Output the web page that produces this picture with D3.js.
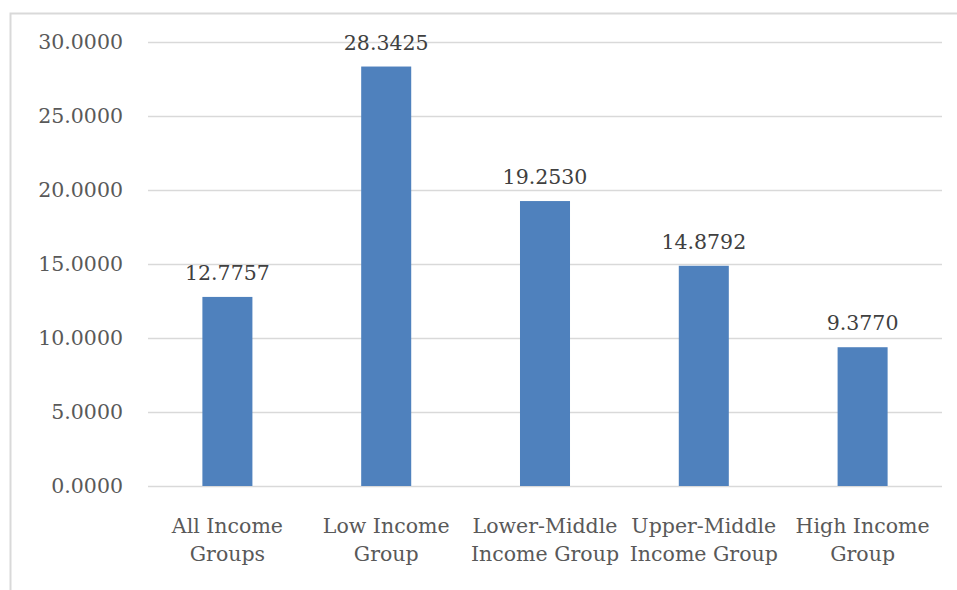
<!DOCTYPE html>
<html>
<head>
<meta charset="utf-8">
<script src="https://cdn.jsdelivr.net/npm/d3@7"></script>
<style>
  html, body { margin: 0; padding: 0; background: #fff; }
  svg { display: block; }
</style>
</head>
<body>
<svg id="chart" width="957" height="590"></svg>
<script>
// Income groups and their values
const categories = [
  ["All Income", "Groups"],
  ["Low Income", "Group"],
  ["Lower-Middle", "Income Group"],
  ["Upper-Middle", "Income Group"],
  ["High Income", "Group"]
];
const values = [12.7757, 28.3425, 19.2530, 14.8792, 9.3770];
const yTicks = [0, 5, 10, 15, 20, 25, 30];

const svg = d3.select("#chart");
const fontFamily = "'DejaVu Serif', serif";
const fontSize = "20.5px";
const plot = { left: 148, right: 942, top: 42, bottom: 486 };

// chart frame
svg.append("rect")
  .attr("x", 10.5).attr("y", 13.5)
  .attr("width", 960).attr("height", 600)
  .attr("fill", "none").attr("stroke", "#d9d9d9").attr("stroke-width", 2);

const x = d3.scaleBand()
  .domain(d3.range(categories.length))
  .range([plot.left, plot.right])
  .paddingInner(0.685)
  .paddingOuter(0.3425);

const y = d3.scaleLinear().domain([0, 30]).range([plot.bottom, plot.top]);

// gridlines + y labels
const yAxis = d3.axisLeft(y)
  .tickValues(yTicks)
  .tickSize(-(plot.right - plot.left))
  .tickPadding(25)
  .tickFormat(d3.format(".4f"));

const gy = svg.append("g").attr("transform", `translate(${plot.left},0)`).call(yAxis);
gy.select(".domain").remove();
gy.selectAll(".tick line").attr("stroke", "#d9d9d9").attr("stroke-width", 1.5);
gy.selectAll(".tick text")
  .attr("fill", "#595959")
  .style("font-family", fontFamily)
  .style("font-size", fontSize);

// bars
svg.append("g").selectAll("rect")
  .data(values)
  .join("rect")
  .attr("x", (d, i) => x(i))
  .attr("width", x.bandwidth())
  .attr("y", d => y(d))
  .attr("height", d => y(0) - y(d))
  .attr("fill", "#4f81bd");

// value labels
svg.append("g").selectAll("text")
  .data(values)
  .join("text")
  .attr("x", (d, i) => x(i) + x.bandwidth() / 2)
  .attr("y", d => y(d) - 17)
  .attr("text-anchor", "middle")
  .attr("fill", "#404040")
  .style("font-family", fontFamily)
  .style("font-size", fontSize)
  .text(d => d3.format(".4f")(d));

// category labels
const cat = svg.append("g").selectAll("text")
  .data(categories)
  .join("text")
  .attr("x", (d, i) => x(i) + x.bandwidth() / 2)
  .attr("y", 533)
  .attr("text-anchor", "middle")
  .attr("fill", "#595959")
  .style("font-family", fontFamily)
  .style("font-size", fontSize);
cat.selectAll("tspan")
  .data(d => d)
  .join("tspan")
  .attr("x", function () { return d3.select(this.parentNode).attr("x"); })
  .attr("dy", (d, i) => i === 0 ? 0 : 28)
  .text(d => d);
</script>
</body>
</html>
